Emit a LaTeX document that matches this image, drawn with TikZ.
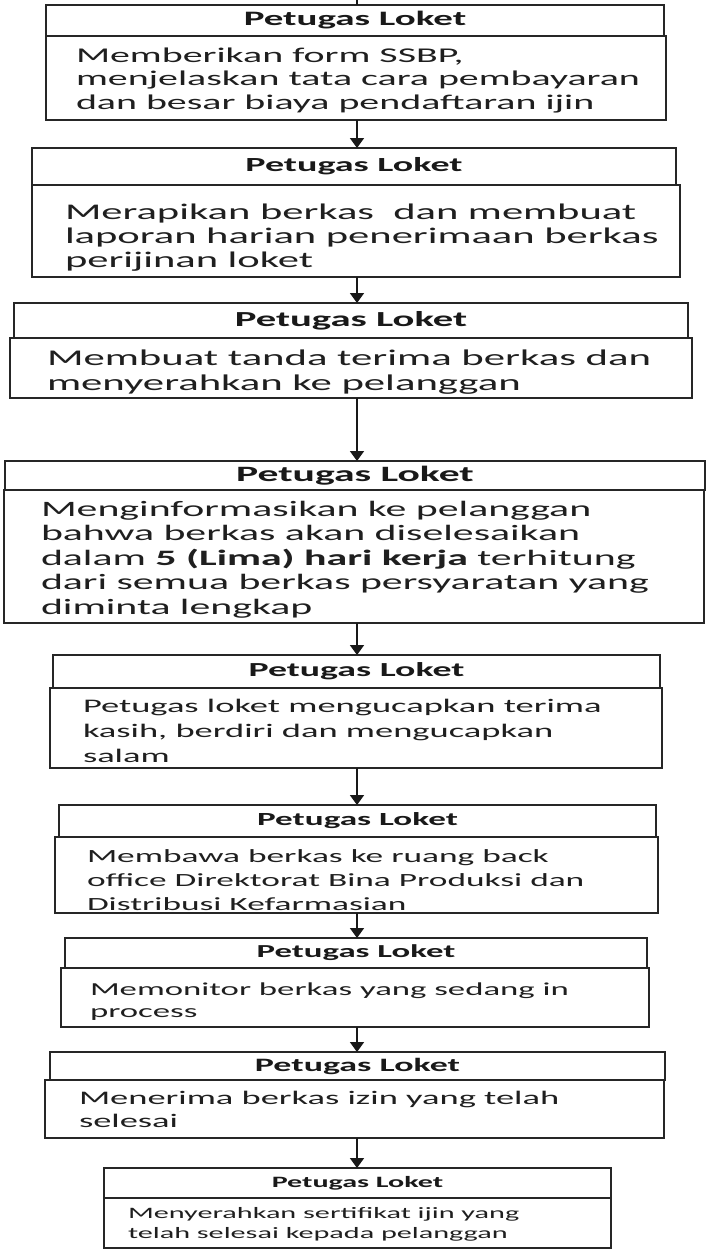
\documentclass[tikz,border=0pt]{standalone}
\usepackage{fontspec}
\setmainfont{Carlito}[FakeStretch=1.9]
\usetikzlibrary{arrows.meta}
\newcommand\lns[2]{\vtop{\baselineskip=#1pt\lineskiplimit=-100pt\lineskip=0pt #2}}
\tikzset{
  box/.style={draw=black!85, line width=1.7pt, fill=white, inner sep=0pt, outer sep=0pt, anchor=north west, text=black!90},
  hdr/.style={box},
  txt/.style={anchor=base west, inner sep=0pt, outer sep=0pt, text=black!88},
  arr/.style={line width=1.8pt, draw=black!90, -{Triangle[length=10pt,width=14pt]}},
}
\begin{document}
\begin{tikzpicture}[x=1pt,y=1pt]
\useasboundingbox (0,0) rectangle (707,-1251);
\fill[white] (0,0) rectangle (707,-1251);
\coordinate (ax) at (357,0);
% box 1
\node[box, minimum width=620, minimum height=84] (b1) at (46,-36) {};
\node[hdr, minimum width=618, minimum height=31, font=\bfseries\fontsize{20.5}{24}\selectfont] (h1) at (46,-5) {Petugas Loket};
\node[txt, font=\fontsize{21}{24}\selectfont] (t1) at (76,-62) {\lns{23.5}{\hbox{Memberikan form SSBP,}\hbox{menjelaskan tata cara pembayaran}\hbox{dan besar biaya pendaftaran ijin}}};
% box 2
\node[box, minimum width=648, minimum height=92] (b2) at (32,-185) {};
\node[hdr, minimum width=644, minimum height=37, font=\bfseries\fontsize{20}{24}\selectfont] (h2) at (32,-148) {Petugas Loket};
\node[txt, font=\fontsize{22.4}{24}\selectfont] (t2) at (65,-219) {\lns{24}{\hbox{Merapikan berkas\ \ dan membuat}\hbox{laporan harian penerimaan berkas}\hbox{perijinan loket}}};
% box 3
\node[box, minimum width=682, minimum height=60] (b3) at (10,-338) {};
\node[hdr, minimum width=674, minimum height=35, font=\bfseries\fontsize{21.4}{24}\selectfont] (h3) at (14,-303) {Petugas Loket};
\node[txt, font=\fontsize{22.5}{24}\selectfont] (t3) at (47,-365) {\lns{25}{\hbox{Membuat tanda terima berkas dan}\hbox{menyerahkan ke pelanggan}}};
% box 4
\node[box, minimum width=700, minimum height=133] (b4) at (4,-490) {};
\node[hdr, minimum width=700, minimum height=29, font=\bfseries\fontsize{21.9}{24}\selectfont] (h4) at (5,-461) {Petugas Loket};
\node[txt, font=\fontsize{22}{24}\selectfont] (t4) at (41,-516) {\lns{24.5}{\hbox{Menginformasikan ke pelanggan}\hbox{bahwa berkas akan diselesaikan}\hbox{dalam \textbf{5 (Lima) hari kerja} terhitung}\hbox{dari semua berkas persyaratan yang}\hbox{diminta lengkap}}};
% box 5
\node[box, minimum width=612, minimum height=80] (b5) at (50,-688) {};
\node[hdr, minimum width=607, minimum height=33, font=\bfseries\fontsize{19.9}{24}\selectfont] (h5) at (53,-655) {Petugas Loket};
\node[txt, font=\fontsize{19.2}{24}\selectfont] (t5) at (83,-712) {\lns{25}{\hbox{Petugas loket mengucapkan terima}\hbox{kasih, berdiri dan mengucapkan}\hbox{salam}}};
% box 6
\node[box, minimum width=603, minimum height=76] (b6) at (55,-837) {};
\node[hdr, minimum width=597, minimum height=32, font=\bfseries\fontsize{18.5}{24}\selectfont] (h6) at (59,-805) {Petugas Loket};
\node[txt, font=\fontsize{18.6}{24}\selectfont] (t6) at (87,-862) {\lns{24}{\hbox{Membawa berkas ke ruang back}\hbox{office Direktorat Bina Produksi dan}\hbox{Distribusi Kefarmasian}}};
% box 7
\node[box, minimum width=588, minimum height=59] (b7) at (61,-968) {};
\node[hdr, minimum width=582, minimum height=30, font=\bfseries\fontsize{18.3}{24}\selectfont] (h7) at (65,-938) {Petugas Loket};
\node[txt, font=\fontsize{18.3}{24}\selectfont] (t7) at (90,-995) {\lns{22}{\hbox{Memonitor berkas yang sedang in}\hbox{process}}};
% box 8
\node[box, minimum width=619, minimum height=58] (b8) at (45,-1080) {};
\node[hdr, minimum width=615, minimum height=28, font=\bfseries\fontsize{18.9}{24}\selectfont] (h8) at (50,-1052) {Petugas Loket};
\node[txt, font=\fontsize{19.2}{24}\selectfont] (t8) at (79,-1104) {\lns{23}{\hbox{Menerima berkas izin yang telah}\hbox{selesai}}};
% box 9
\node[box, minimum width=507, minimum height=50] (b9) at (104,-1198) {};
\node[hdr, minimum width=507, minimum height=30, font=\bfseries\fontsize{15.8}{20}\selectfont] (h9) at (104,-1168) {Petugas Loket};
\node[txt, font=\fontsize{15.9}{20}\selectfont] (t9) at (128,-1218) {\lns{20}{\hbox{Menyerahkan sertifikat ijin yang}\hbox{telah selesai kepada pelanggan}}};
% connectors
\coordinate (tp) at (357,0);
\draw[line width=1.8pt, draw=black!90] (tp) -- (h1.north -| ax);
\draw[arr] (b1.south -| ax) -- (h2.north -| ax);
\draw[arr] (b2.south -| ax) -- (h3.north -| ax);
\draw[arr] (b3.south -| ax) -- (h4.north -| ax);
\draw[arr] (b4.south -| ax) -- (h5.north -| ax);
\draw[arr] (b5.south -| ax) -- (h6.north -| ax);
\draw[arr] (b6.south -| ax) -- (h7.north -| ax);
\draw[arr] (b7.south -| ax) -- (h8.north -| ax);
\draw[arr] (b8.south -| ax) -- (h9.north -| ax);
\end{tikzpicture}
\end{document}
